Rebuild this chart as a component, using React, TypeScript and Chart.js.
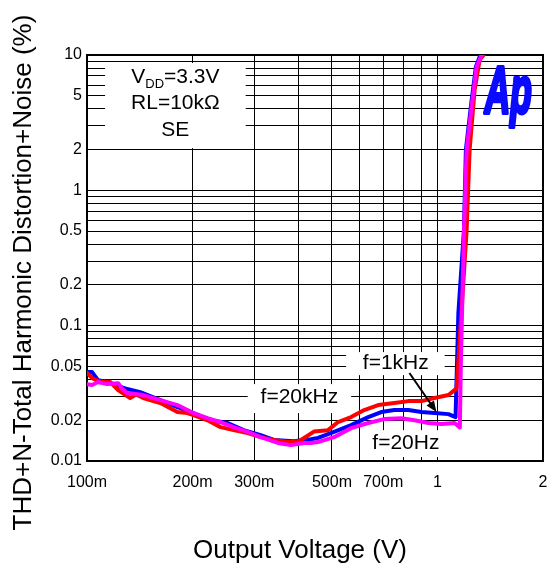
import React, { useEffect, useRef } from "react";
import { Chart, registerables } from "chart.js";

Chart.register(...registerables);

// ---- Data (Output voltage in V, THD+N in %) ----
const v20kHz = [0.1, 0.1034, 0.109, 0.1164, 0.1227, 0.1328, 0.138, 0.1447, 0.1619, 0.1811, 0.1934, 0.2012, 0.2208, 0.2405, 0.2621, 0.2874, 0.3131, 0.3412, 0.3742, 0.3998, 0.4078, 0.444, 0.4873, 0.5204, 0.567, 0.6179, 0.6774, 0.7529, 0.8256, 0.9, 0.9804, 1.075, 1.134, 1.211, 1.235, 1.276, 1.319, 1.364];
const thd20kHz = [0.0447, 0.041, 0.0385, 0.0385, 0.0334, 0.0292, 0.031, 0.0292, 0.0268, 0.023, 0.0226, 0.0218, 0.02, 0.0178, 0.0169, 0.0161, 0.015, 0.0143, 0.0138, 0.014, 0.0143, 0.0165, 0.0169, 0.0194, 0.0211, 0.0238, 0.0259, 0.0268, 0.0277, 0.0277, 0.0292, 0.0307, 0.0344, 0.509, 1.99, 5.51, 9.19, 10.3];

const v1kHz = [0.1, 0.1034, 0.1075, 0.1141, 0.1302, 0.1419, 0.1619, 0.1811, 0.2012, 0.2251, 0.2519, 0.2799, 0.3131, 0.3412, 0.3893, 0.4355, 0.456, 0.5069, 0.567, 0.6344, 0.691, 0.7529, 0.8256, 0.9, 0.9804, 1.075, 1.126, 1.147, 1.19, 1.205, 1.245, 1.287, 1.331];
const thd1kHz = [0.0454, 0.0454, 0.0396, 0.0383, 0.034, 0.0323, 0.0282, 0.025, 0.0226, 0.02, 0.0191, 0.0169, 0.0155, 0.0143, 0.014, 0.0145, 0.0148, 0.0164, 0.0184, 0.0211, 0.023, 0.0238, 0.0238, 0.023, 0.0226, 0.0222, 0.0211, 0.124, 0.509, 1.99, 4.15, 8.2, 10.3];

const v20Hz = [0.1, 0.1034, 0.1075, 0.1141, 0.1227, 0.1262, 0.1302, 0.1447, 0.1619, 0.1811, 0.1934, 0.2012, 0.2208, 0.2405, 0.2621, 0.2874, 0.3131, 0.3503, 0.3817, 0.4159, 0.4355, 0.456, 0.5069, 0.567, 0.6344, 0.7048, 0.7884, 0.8594, 0.9424, 1.027, 1.119, 1.158, 1.166, 1.19, 1.211, 1.251, 1.293, 1.343];
const thd20Hz = [0.037, 0.0364, 0.0383, 0.037, 0.0376, 0.034, 0.0318, 0.0307, 0.0282, 0.0259, 0.0238, 0.0226, 0.0207, 0.0194, 0.0178, 0.0164, 0.015, 0.0136, 0.0131, 0.0136, 0.0136, 0.0138, 0.015, 0.0175, 0.0191, 0.0204, 0.0207, 0.02, 0.0191, 0.0188, 0.0191, 0.0177, 0.053, 0.509, 1.99, 4.15, 8.2, 10.3];

// ---- Axes ----
const xGridValues = [0.1, 0.2, 0.3, 0.4, 0.5, 0.6, 0.7, 0.8, 0.9, 1, 2];
const xLabelValues = [0.1, 0.2, 0.3, 0.5, 0.7, 1, 2];
const xLabelTexts = ["100m", "200m", "300m", "500m", "700m", "1", "2"];

const yGridValues = [0.01, 0.02, 0.03, 0.04, 0.05, 0.06, 0.07, 0.08, 0.09, 0.1, 0.2, 0.3, 0.4, 0.5, 0.6, 0.7, 0.8, 0.9, 1, 2, 3, 4, 5, 6, 7, 8, 9, 10];
const yLabelValues = [0.01, 0.02, 0.05, 0.1, 0.2, 0.5, 1, 2, 5, 10];
const yLabelTexts = ["0.01", "0.02", "0.05", "0.1", "0.2", "0.5", "1", "2", "5", "10"];

const xTitle = "Output Voltage (V)";
const yTitle = "THD+N-Total Harmonic Distortion+Noise (%)";

const FONT = "'Liberation Sans', Arial, Helvetica, sans-serif";

function labelFor(value: number, values: number[], texts: string[]): string {
  for (let i = 0; i < values.length; i++) {
    if (Math.abs(value - values[i]) / values[i] < 1e-6) return texts[i];
  }
  return "";
}

function toPoints(xs: number[], ys: number[]) {
  return xs.map((x, i) => ({ x, y: ys[i] }));
}

const overlayPlugin = {
  id: "overlay",
  beforeDatasetsDraw(chart: any) {
    const { ctx, chartArea: a, scales } = chart;
    const x = scales.x;
    const y = scales.y;
    const px = (v: number) => x.getPixelForValue(v);
    const py = (v: number) => y.getPixelForValue(v);
    ctx.save();
    // white label boxes (x1, x2, yTop, yBottom in data units)
    const boxes = [
      [0.1126, 0.2836, 8.73, 2.05],
      [0.2874, 0.567, 0.037, 0.0226],
      [0.5487, 1.048, 0.0638, 0.0431],
      [0.626, 1.061, 0.0169, 0.0107],
    ];
    ctx.fillStyle = "#ffffff";
    for (const b of boxes) {
      const l = px(b[0]), r = px(b[1]), t = py(b[2]), bt = py(b[3]);
      ctx.fillRect(l, t, r - l, bt - t);
    }
    // Ap logo
    ctx.save();
    ctx.font = `italic bold 66px ${FONT}`;
    const w = ctx.measureText("Ap").width;
    const lx = px(1.355), rx = px(1.884);
    ctx.translate(lx + 1, py(3.73));
    ctx.scale((rx - lx - 3) / w, 1);
    ctx.fillStyle = "#0a0aff";
    ctx.strokeStyle = "#0a0aff";
    ctx.lineWidth = 4;
    ctx.lineJoin = "round";
    ctx.textAlign = "left";
    ctx.textBaseline = "alphabetic";
    ctx.strokeText("Ap", 0, 0);
    ctx.fillText("Ap", 0, 0);
    ctx.restore();
    // plot border
    ctx.strokeStyle = "#000";
    ctx.lineWidth = 2;
    ctx.strokeRect(a.left, a.top, a.right - a.left, a.bottom - a.top);
    ctx.restore();
  },
  afterDatasetsDraw(chart: any) {
    const { ctx, scales } = chart;
    const x = scales.x;
    const y = scales.y;
    const px = (v: number) => x.getPixelForValue(v);
    const py = (v: number) => y.getPixelForValue(v);
    ctx.save();
    ctx.fillStyle = "#000";
    ctx.textAlign = "center";
    ctx.textBaseline = "middle";
    const f1 = `21px ${FONT}`;
    const f2 = `13px ${FONT}`;
    const cx = px(0.1787);
    // VDD with subscript
    ctx.font = f1;
    const wV = ctx.measureText("V").width;
    const wRest = ctx.measureText("=3.3V").width;
    ctx.font = f2;
    const wDD = ctx.measureText("DD").width;
    const total = wV + wDD + wRest;
    let sx = cx - total / 2;
    const y1 = py(6.88);
    ctx.textAlign = "left";
    ctx.font = f1;
    ctx.fillText("V", sx, y1);
    sx += wV;
    ctx.font = f2;
    ctx.fillText("DD", sx, y1 + 7);
    sx += wDD;
    ctx.font = f1;
    ctx.fillText("=3.3V", sx, y1);
    ctx.textAlign = "center";
    ctx.fillText("RL=10kΩ", cx, py(4.42));
    ctx.fillText("SE", cx, py(2.79));
    // curve labels
    ctx.fillText("f=20kHz", px(0.4036), py(0.0297));
    ctx.fillText("f=1kHz", px(0.7603), py(0.053));
    ctx.fillText("f=20Hz", px(0.8124), py(0.0136));
    // arrow
    const ax1 = px(0.8316), ay1 = py(0.0447), ax2 = px(0.9934), ay2 = py(0.023);
    ctx.strokeStyle = "#000";
    ctx.lineWidth = 2;
    const ang = Math.atan2(ay2 - ay1, ax2 - ax1);
    ctx.beginPath();
    ctx.moveTo(ax1, ay1);
    ctx.lineTo(ax2 - 8 * Math.cos(ang), ay2 - 8 * Math.sin(ang));
    ctx.stroke();
    ctx.beginPath();
    ctx.moveTo(ax2, ay2);
    ctx.lineTo(ax2 - 11 * Math.cos(ang) + 4.5 * Math.sin(ang), ay2 - 11 * Math.sin(ang) - 4.5 * Math.cos(ang));
    ctx.lineTo(ax2 - 11 * Math.cos(ang) - 4.5 * Math.sin(ang), ay2 - 11 * Math.sin(ang) + 4.5 * Math.cos(ang));
    ctx.closePath();
    ctx.fill();
    ctx.restore();
  },
  afterDraw(chart: any) {
    const { ctx } = chart;
    ctx.save();
    ctx.fillStyle = "#000";
    ctx.font = `26px ${FONT}`;
    ctx.textAlign = "center";
    ctx.textBaseline = "middle";
    ctx.fillText(xTitle, 300, 551);
    ctx.translate(23.5, 272.5);
    ctx.rotate(-Math.PI / 2);
    ctx.fillText(yTitle, 0, 0);
    ctx.restore();
  },
};

export default function App() {
  const canvasRef = useRef<HTMLCanvasElement | null>(null);

  useEffect(() => {
    document.body.style.margin = "0";
    const canvas = canvasRef.current;
    if (!canvas) return;
    const common = { pointRadius: 0, borderWidth: 4, tension: 0, fill: false, borderJoinStyle: "round" as const, borderCapStyle: "round" as const };
    const chart = new Chart(canvas, {
      type: "line",
      data: {
        datasets: [
          { label: "f=20Hz", data: toPoints(v20Hz, thd20Hz), borderColor: "#ff00ff", backgroundColor: "#ff00ff", ...common },
          { label: "f=20kHz", data: toPoints(v20kHz, thd20kHz), borderColor: "#ff0000", backgroundColor: "#ff0000", ...common },
          { label: "f=1kHz", data: toPoints(v1kHz, thd1kHz), borderColor: "#0000ff", backgroundColor: "#0000ff", ...common },
        ],
      },
      options: {
        animation: false,
        responsive: false,
        devicePixelRatio: 1,
        layout: { padding: { left: 0, top: 55, right: 4, bottom: 0 } },
        plugins: { legend: { display: false }, tooltip: { enabled: false } },
        scales: {
          x: {
            type: "logarithmic",
            min: 0.1,
            max: 2,
            afterBuildTicks: (s: any) => {
              s.ticks = xGridValues.map((v) => ({ value: v }));
            },
            afterFit: (s: any) => {
              s.height = 110;
              s.paddingLeft = 0;
              s.paddingRight = 0;
            },
            ticks: {
              autoSkip: false,
              maxRotation: 0,
              minRotation: 0,
              padding: 12,
              color: "#000",
              font: { family: FONT, size: 16 },
              callback: (v: any) => labelFor(Number(v), xLabelValues, xLabelTexts),
            },
            grid: { color: "#000", lineWidth: 1, drawTicks: false },
            border: { display: false },
          },
          y: {
            type: "logarithmic",
            min: 0.01,
            max: 10,
            afterBuildTicks: (s: any) => {
              s.ticks = yGridValues.map((v) => ({ value: v }));
            },
            afterFit: (s: any) => {
              s.width = 87;
              s.paddingTop = 0;
              s.paddingBottom = 0;
            },
            ticks: {
              autoSkip: false,
              padding: 5,
              color: "#000",
              font: { family: FONT, size: 16 },
              callback: (v: any) => labelFor(Number(v), yLabelValues, yLabelTexts),
            },
            grid: { color: "#000", lineWidth: 1, drawTicks: false },
            border: { display: false },
          },
        },
      } as any,
      plugins: [overlayPlugin],
    });
    return () => chart.destroy();
  }, []);

  return (
    <div style={{ position: "absolute", left: 0, top: 0, width: 547, height: 571, background: "#fff" }}>
      <canvas ref={canvasRef} width={547} height={571} style={{ display: "block" }} />
    </div>
  );
}
